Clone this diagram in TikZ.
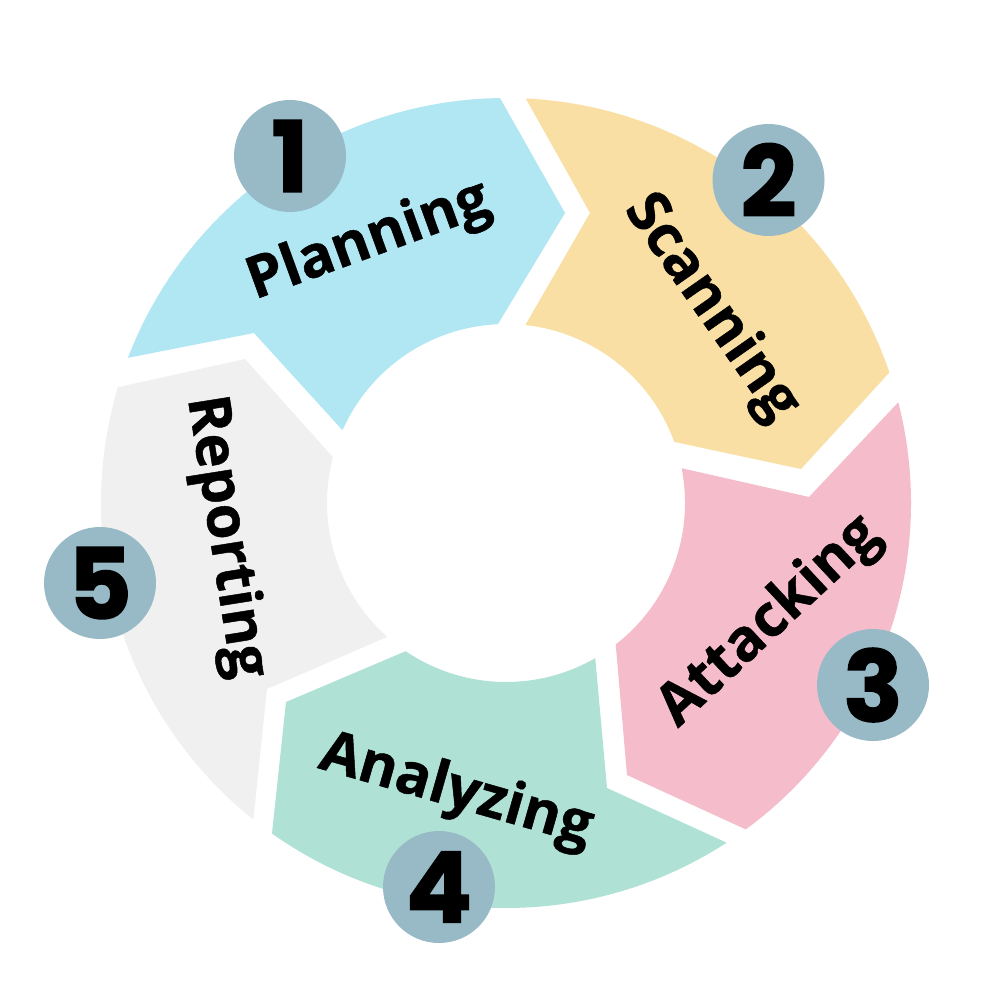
\documentclass[tikz,border=0pt]{standalone}
\usepackage{fontspec}
\newfontfamily\lblfont{Open Sans}[BoldFeatures={FakeBold=0.8}]
\newfontfamily\numfont{Poppins}[BoldFeatures={FakeBold=1.5}]
\usetikzlibrary{calc}
\definecolor{cPlan}{HTML}{B1E7F3}
\definecolor{cScan}{HTML}{F9DFA3}
\definecolor{cAtt}{HTML}{F5BDCB}
\definecolor{cAna}{HTML}{AFE1D5}
\definecolor{cRep}{HTML}{F0F0F0}
\definecolor{cNum}{HTML}{97BAC6}
\tikzset{
  lbl/.style={inner sep=0pt, font=\lblfont\bfseries\fontsize{16.5}{18}\selectfont, text=black},
  numc/.style={circle, fill=cNum, minimum size=1.12cm, inner sep=0pt, font=\numfont\bfseries\fontsize{28}{30}\selectfont, text=black},
}
\begin{document}
\begin{tikzpicture}
\useasboundingbox (0,0) rectangle (10,-10);
\fill[white] (0,0) rectangle (10,-10);
\coordinate (O) at (5.06,-5.03);
% Planning
\fill[cPlan] ($(O)+(159.0:4.05)$) -- (2.54,-3.33) -- ($(O)+(156.0:1.79)$)
  arc[start angle=156.0, end angle=92.6, radius=1.79] -- (5.65,-2.13)
  -- ($(O)+(90.85:4.05)$) arc[start angle=90.85, end angle=159.0, radius=4.05] -- cycle;
% Scanning
\fill[cScan] ($(O)+(87.2:4.05)$) -- (5.90,-2.13) -- ($(O)+(83.8:1.79)$)
  arc[start angle=83.8, end angle=19.96, radius=1.79] -- (8.01,-4.69)
  -- ($(O)+(18.8:4.05)$) arc[start angle=18.8, end angle=87.2, radius=4.05] -- cycle;
% Attacking
\fill[cAtt] ($(O)+(14.4:4.05)$) -- (8.09,-4.97) -- ($(O)+(11.2:1.79)$)
  arc[start angle=11.2, end angle=-52.2, radius=1.79] -- (6.27,-7.75)
  -- ($(O)+(-53.7:4.05)$) arc[start angle=-53.7, end angle=14.4, radius=4.05] -- cycle;
% Analyzing
\fill[cAna] ($(O)+(-57.0:4.05)$) -- (6.07,-7.88) -- ($(O)+(-60.1:1.79)$)
  arc[start angle=-60.1, end angle=-124.1, radius=1.79] -- (2.86,-7.02)
  -- ($(O)+(-125.3:4.05)$) arc[start angle=-125.3, end angle=-57.0, radius=4.05] -- cycle;
% Reporting
\fill[cRep] ($(O)+(-128.6:4.05)$) -- (2.67,-6.89) -- ($(O)+(-131.6:1.79)$)
  arc[start angle=-131.6, end angle=-194.8, radius=1.79] -- (2.45,-3.59)
  -- ($(O)+(163.4:4.05)$) arc[start angle=163.4, end angle=231.4, radius=4.05] -- cycle;
% labels
\node[lbl, rotate=20] (tPlan) at (3.69,-2.42) {Planning};
\node[lbl, rotate=-55] (tScan) at (7.11,-3.08) {Scanning};
\node[lbl, rotate=43] (tAtt) at (7.70,-6.22) {Attacking};
\node[lbl, rotate=-16] (tAna) at (4.56,-7.92) {Analyzing};
\node[lbl, rotate=-81] (tRep) at (2.25,-5.37) {Reporting};
% numbers
\node[numc] (n1) at (2.90,-1.56) {1};
\node[numc] (n2) at (7.685,-1.80) {2};
\node[numc] (n3) at (8.73,-6.85) {3};
\node[numc] (n4) at (4.39,-8.87) {4};
\node[numc] (n5) at (1.00,-5.83) {5};
\end{tikzpicture}
\end{document}
